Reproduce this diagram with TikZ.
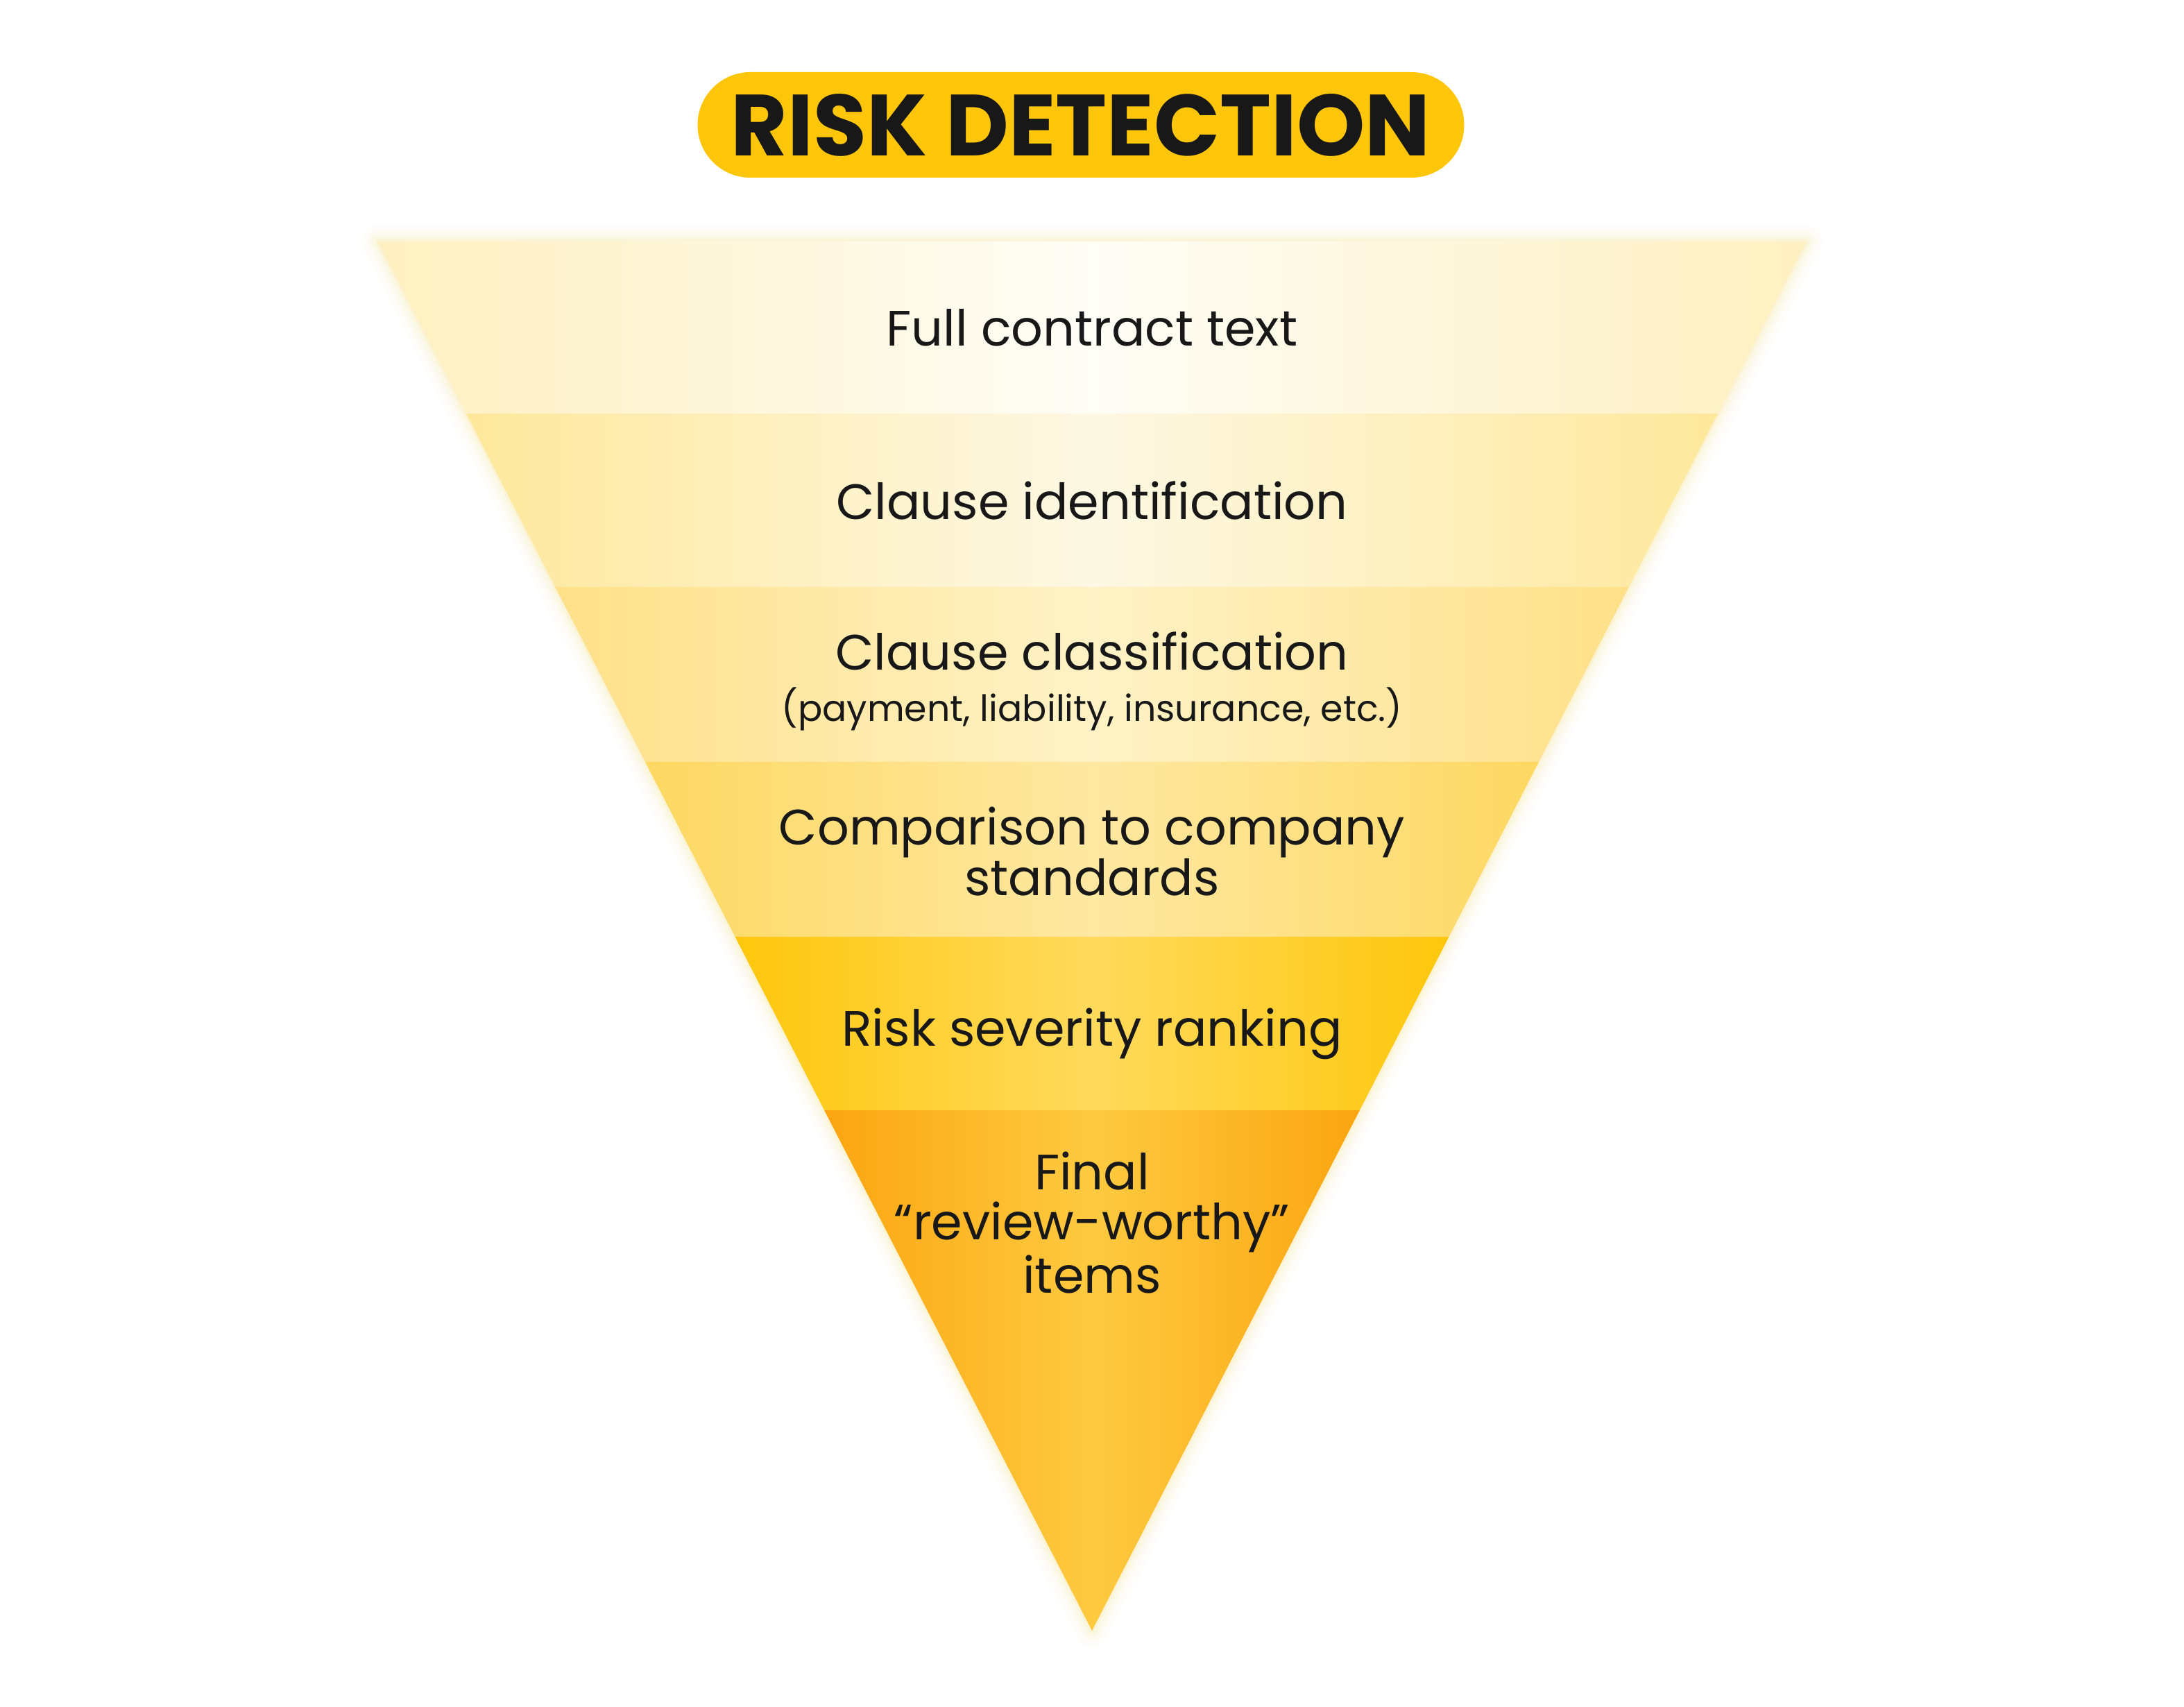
\documentclass[tikz,border=0pt]{standalone}
\usepackage{fontspec}
\setmainfont{Poppins}
\usepackage{xcolor}
\usepackage{tikz}
\usetikzlibrary{positioning}
\definecolor{riskyellow}{RGB}{254,198,10}
\definecolor{riskink}{RGB}{24,24,24}
\definecolor{glowyellow}{RGB}{250,238,190}
\definecolor{fulledge}{RGB}{254,240,192}
\definecolor{fullmid}{RGB}{254,253,246}
\definecolor{identedge}{RGB}{254,232,156}
\definecolor{identmid}{RGB}{253,248,228}
\definecolor{classedge}{RGB}{254,224,136}
\definecolor{classmid}{RGB}{254,242,198}
\definecolor{compedge}{RGB}{253,216,98}
\definecolor{compmid}{RGB}{254,232,162}
\definecolor{rankedge}{RGB}{254,199,12}
\definecolor{rankmid}{RGB}{255,218,92}
\definecolor{finaledge}{RGB}{251,165,16}
\definecolor{finalmid}{RGB}{254,202,64}

\begin{document}
\begin{tikzpicture}[
    titlepill/.style={rectangle, rounded corners=0.76cm, fill=riskyellow, text=riskink, minimum width=11.05cm, minimum height=1.52cm, inner sep=0pt, font=\bfseries\fontsize{35.6}{36}\selectfont},
    stage/.style={anchor=base, inner sep=0pt, align=center, text=riskink, font=\fontsize{20.4}{20.6}\selectfont},
    stagenote/.style={anchor=base, inner sep=0pt, text=riskink, font=\fontsize{14.85}{15}\selectfont},
    glow/.style={draw=glowyellow, line join=round}
]
    \useasboundingbox[fill=white] (0,0) rectangle (31.48,-24.60);

    % Funnel corners
    \coordinate (tl) at (5.44,-3.48);
    \coordinate (tr) at (26.04,-3.48);
    \coordinate (apex) at (15.74,-23.50);

    % Soft glow round the funnel
    \draw[glow, line width=0.46cm, opacity=0.08] (tl) -- (tr) -- (apex) -- cycle;
    \draw[glow, line width=0.30cm, opacity=0.12] (tl) -- (tr) -- (apex) -- cycle;
    \draw[glow, line width=0.18cm, opacity=0.20] (tl) -- (tr) -- (apex) -- cycle;
    \draw[glow, line width=0.07cm, opacity=0.35] (tl) -- (tr) -- (apex) -- cycle;

    % Bands, top to bottom
    \shade[left color=fulledge, right color=fulledge, middle color=fullmid]
        (tl) -- (tr) -- (24.764,-5.96) -- (6.716,-5.96) -- cycle;
    \shade[left color=identedge, right color=identedge, middle color=identmid]
        (6.716,-5.96) -- (24.764,-5.96) -- (23.478,-8.46) -- (8.002,-8.46) -- cycle;
    \shade[left color=classedge, right color=classedge, middle color=classmid]
        (8.002,-8.46) -- (23.478,-8.46) -- (22.181,-10.98) -- (9.299,-10.98) -- cycle;
    \shade[left color=compedge, right color=compedge, middle color=compmid]
        (9.299,-10.98) -- (22.181,-10.98) -- (20.885,-13.50) -- (10.595,-13.50) -- cycle;
    \shade[left color=rankedge, right color=rankedge, middle color=rankmid]
        (10.595,-13.50) -- (20.885,-13.50) -- (19.599,-16.00) -- (11.881,-16.00) -- cycle;
    \shade[left color=finaledge, right color=finaledge, middle color=finalmid]
        (11.881,-16.00) -- (19.599,-16.00) -- (apex) -- cycle;

    % Title
    \node[titlepill] (title) at (15.58,-1.80) {RISK DETECTION};

    % Stage labels (base of a multi-line label is its last line)
    \node[stage] (full) at (15.74,-4.99) {Full contract text};
    \node[stage] (ident) at (15.74,-7.49) {Clause identification};
    \node[stage] (class) at (15.74,-9.66) {Clause classification};
    \node[stagenote] (classnote) at (15.74,-10.40) {(payment, liability, insurance, etc.)};
    \node[stage] (comp) at (15.74,-12.90) {Comparison to company\\standards};
    \node[stage] (rank) at (15.74,-15.07) {Risk severity ranking};
    \node[stage] (final) at (15.74,-18.63) {Final\\“review-worthy”\\items};
\end{tikzpicture}
\end{document}
